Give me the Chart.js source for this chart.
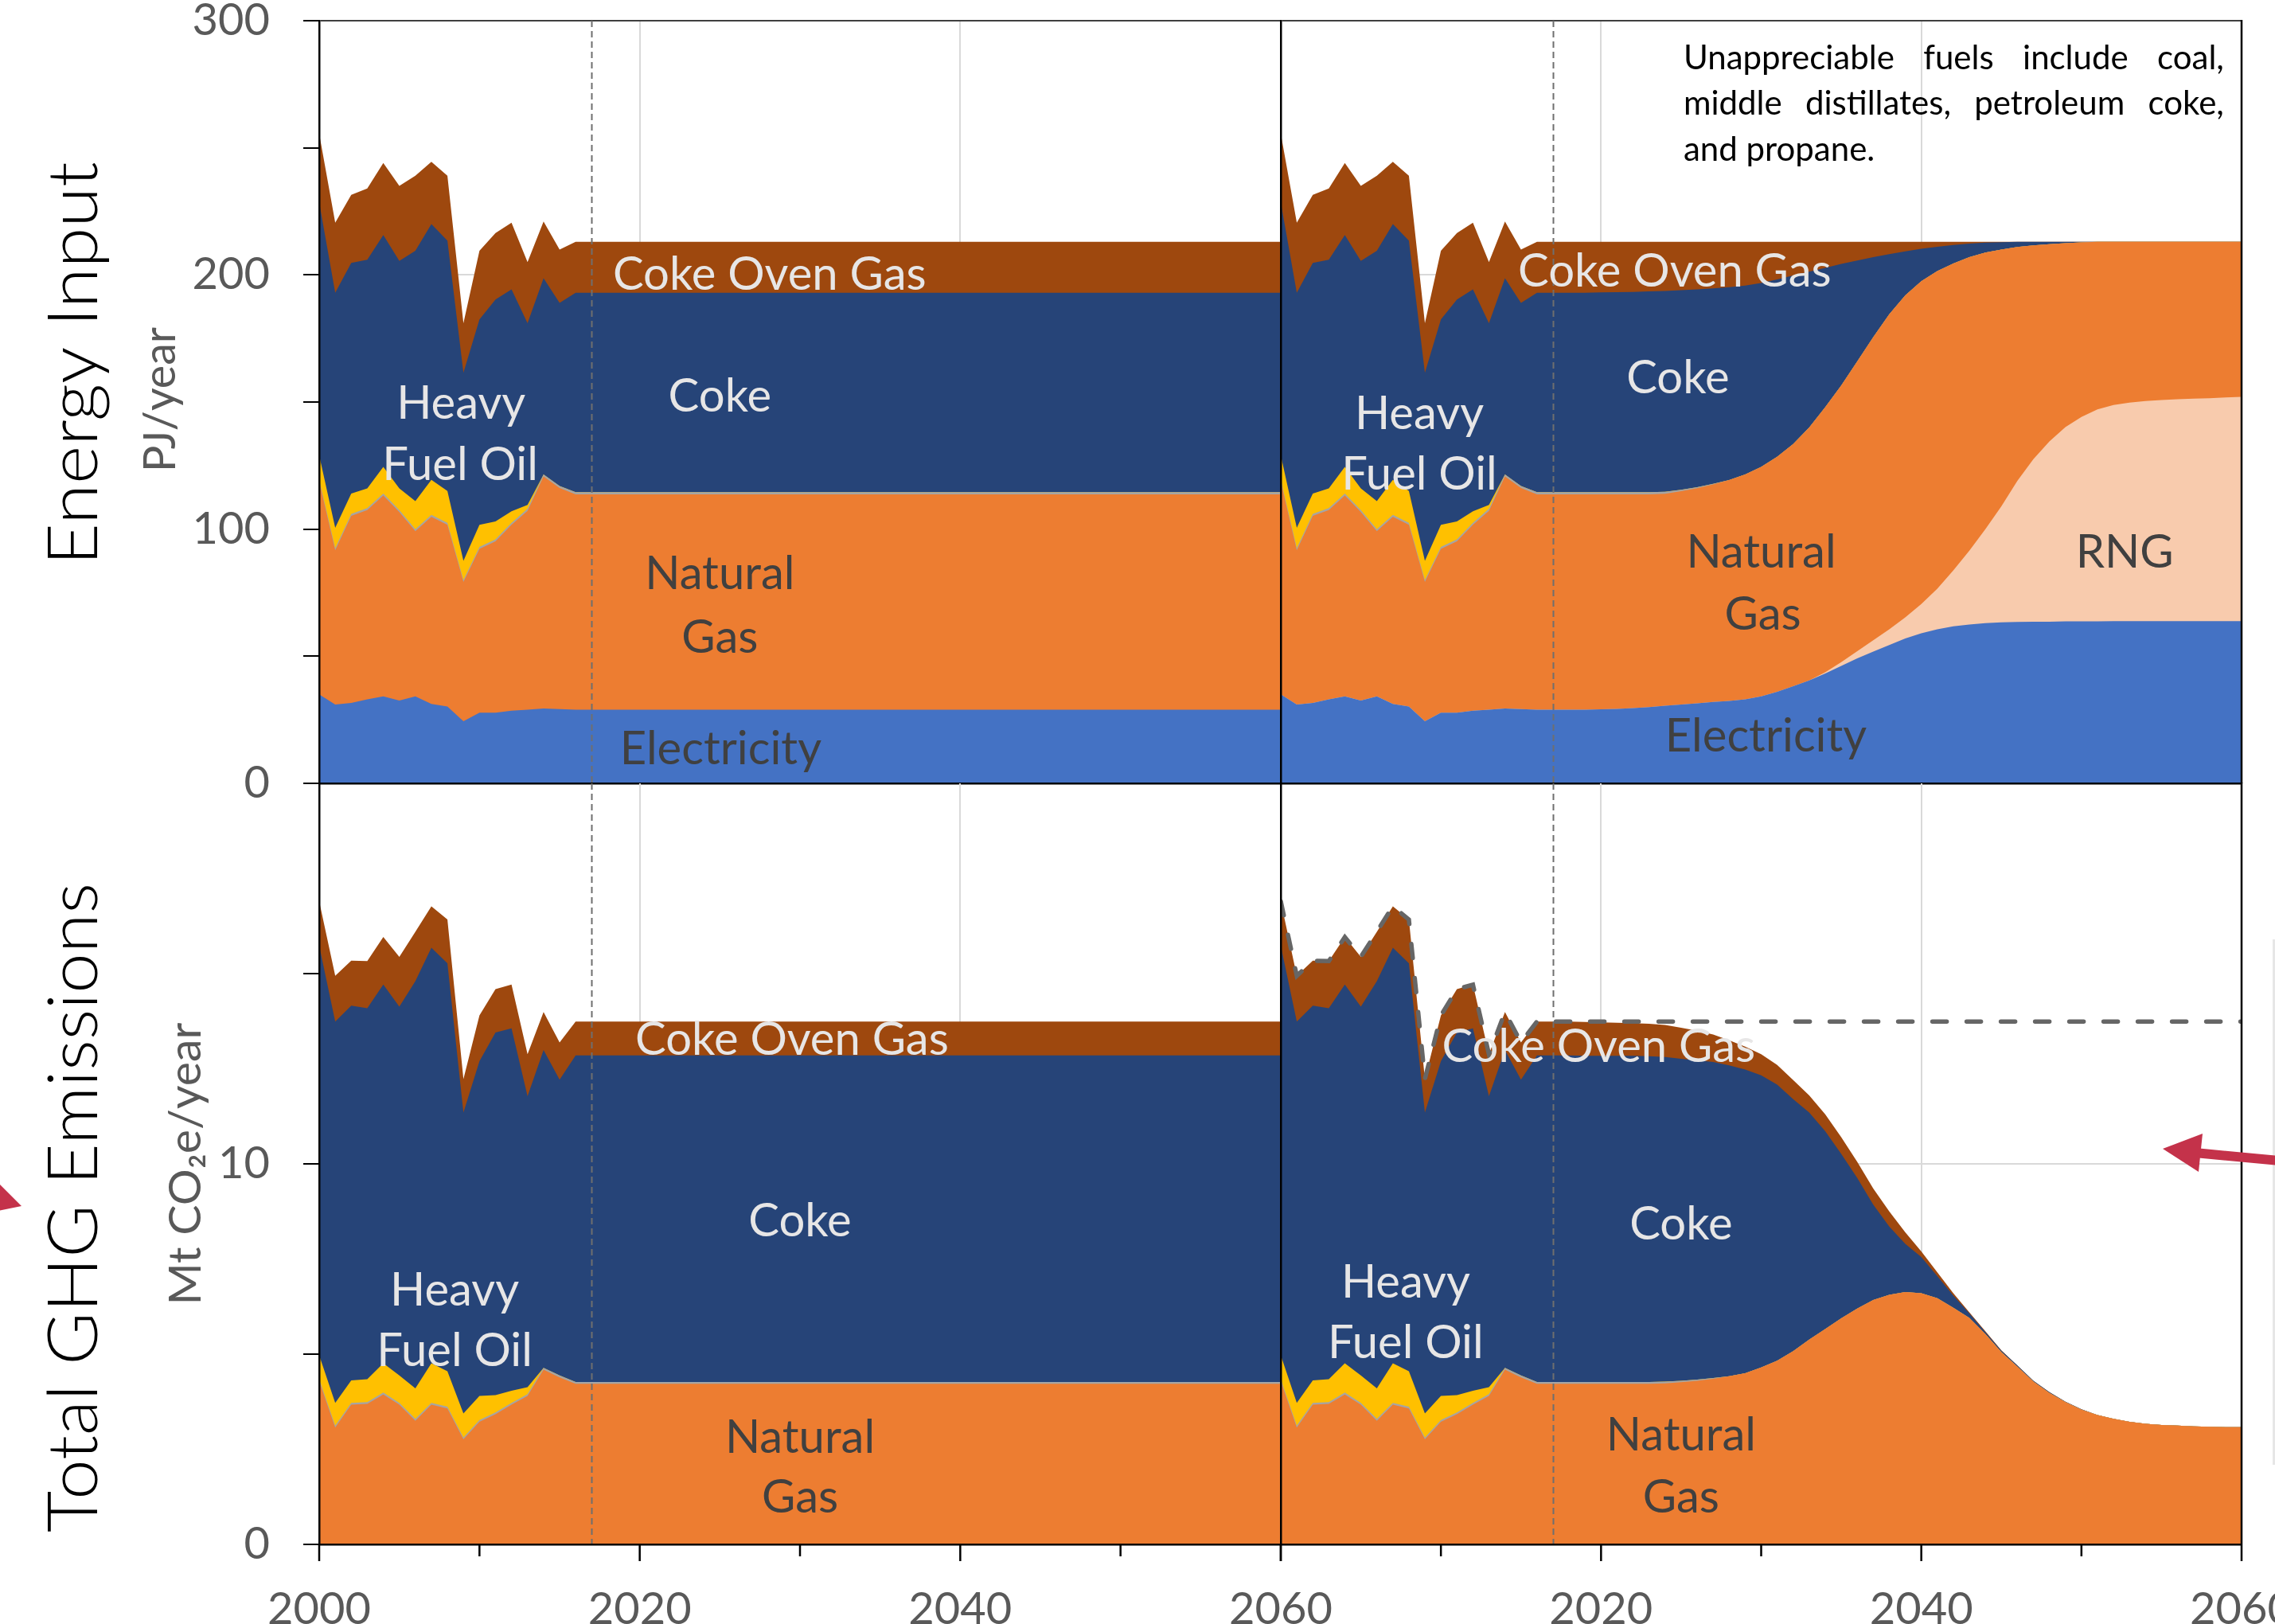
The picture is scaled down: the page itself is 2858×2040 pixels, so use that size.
<!DOCTYPE html>
<html>
<head>
<meta charset="utf-8">
<title>Iron and steel: energy input and GHG emissions</title>
<script src="https://cdn.jsdelivr.net/npm/chart.js"></script>
<style>
  html, body { margin: 0; padding: 0; width: 2858px; height: 2040px; overflow: hidden; background: #ffffff; }
  canvas, svg { position: absolute; left: 0; top: 0; }
  svg { pointer-events: none; }
</style>
</head>
<body>
<canvas id="energyReference" width="2950" height="2100"></canvas>
<canvas id="emissionsReference" width="2950" height="2100"></canvas>
<canvas id="energyNetZero" width="2950" height="2100"></canvas>
<canvas id="emissionsNetZero" width="2950" height="2100"></canvas>
<svg width="2858" height="2040" viewBox="0 0 2858 2040">
  <line x1="2856.5" y1="1180" x2="2856.5" y2="1840" stroke="#e6e6e6" stroke-width="3"/>
  <line x1="2880" y1="1459.5" x2="2760" y2="1448.3" stroke="#c4324a" stroke-width="12"/>
  <polygon points="2717,1443 2767,1424 2762,1472" fill="#c4324a"/>
  <polygon points="-12,1476 27,1515 -12,1523" fill="#c4324a"/>
</svg>
<script>
// ---------------------------------------------------------------------------
// Years: 2000-2016 are historical, 2017-2060 are projections
// ---------------------------------------------------------------------------
const years = [];
for (let yr = 2000; yr <= 2060; yr++) years.push(yr);
const PROJECTION_START = 2017;

// ---- Energy input, PJ/year, history 2000-2016 ------------------------------
const histEnergyElectricity  = [35, 31, 31.6, 33, 34.2, 32.6, 34.2, 31.2, 30.2, 24.4, 27.8, 27.8, 28.6, 29, 29.4, 29.2, 29];
const histEnergyNaturalGas   = [83.7, 60.7, 73.6, 74.5, 79, 74.1, 65, 73.6, 71.5, 54.8, 64.4, 67.4, 73.1, 78.2, 91.3, 87, 84.7];
const histEnergyOther        = [0.8, 0.8, 0.8, 0.8, 0.8, 0.8, 0.8, 0.8, 0.8, 0.8, 0.8, 0.8, 0.8, 0.8, 0.8, 0.8, 0.8];
const histEnergyHeavyFuelOil = [9.5, 8, 8, 7.7, 10.5, 8.5, 11, 13.8, 12.5, 7.5, 8.7, 7, 4.5, 1.5, 0, 0, 0];
const histEnergyCoke         = [99.5, 92.5, 90.7, 90, 91.2, 89.5, 98.5, 100.6, 98.5, 74, 80.8, 87.3, 87.3, 71.5, 77.2, 72, 78.5];
const histEnergyCokeOvenGas  = [27, 27.5, 26.8, 28, 28.3, 29.5, 29.5, 24.5, 25.5, 19.5, 27, 26.2, 26.2, 24, 22.3, 21, 20];
const histEnergyRng          = [0, 0, 0, 0, 0, 0, 0, 0, 0, 0, 0, 0, 0, 0, 0, 0, 0];

// ---- Energy input, reference projection 2017-2060 --------------------------
const refEnergyElectricity = [
  29, 29, 29, 29, 29, 29, 29, 29, 29, 29, 29,
  29, 29, 29, 29, 29, 29, 29, 29, 29, 29, 29,
  29, 29, 29, 29, 29, 29, 29, 29, 29, 29, 29,
  29, 29, 29, 29, 29, 29, 29, 29, 29, 29, 29];
const refEnergyNaturalGas = [
  84.7, 84.7, 84.7, 84.7, 84.7, 84.7, 84.7, 84.7, 84.7, 84.7, 84.7,
  84.7, 84.7, 84.7, 84.7, 84.7, 84.7, 84.7, 84.7, 84.7, 84.7, 84.7,
  84.7, 84.7, 84.7, 84.7, 84.7, 84.7, 84.7, 84.7, 84.7, 84.7, 84.7,
  84.7, 84.7, 84.7, 84.7, 84.7, 84.7, 84.7, 84.7, 84.7, 84.7, 84.7];
const refEnergyOther = [
  0.8, 0.8, 0.8, 0.8, 0.8, 0.8, 0.8, 0.8, 0.8, 0.8, 0.8,
  0.8, 0.8, 0.8, 0.8, 0.8, 0.8, 0.8, 0.8, 0.8, 0.8, 0.8,
  0.8, 0.8, 0.8, 0.8, 0.8, 0.8, 0.8, 0.8, 0.8, 0.8, 0.8,
  0.8, 0.8, 0.8, 0.8, 0.8, 0.8, 0.8, 0.8, 0.8, 0.8, 0.8];
const refEnergyHeavyFuelOil = [
  0, 0, 0, 0, 0, 0, 0, 0, 0, 0, 0,
  0, 0, 0, 0, 0, 0, 0, 0, 0, 0, 0,
  0, 0, 0, 0, 0, 0, 0, 0, 0, 0, 0,
  0, 0, 0, 0, 0, 0, 0, 0, 0, 0, 0];
const refEnergyCoke = [
  78.5, 78.5, 78.5, 78.5, 78.5, 78.5, 78.5, 78.5, 78.5, 78.5, 78.5,
  78.5, 78.5, 78.5, 78.5, 78.5, 78.5, 78.5, 78.5, 78.5, 78.5, 78.5,
  78.5, 78.5, 78.5, 78.5, 78.5, 78.5, 78.5, 78.5, 78.5, 78.5, 78.5,
  78.5, 78.5, 78.5, 78.5, 78.5, 78.5, 78.5, 78.5, 78.5, 78.5, 78.5];
const refEnergyCokeOvenGas = [
  20, 20, 20, 20, 20, 20, 20, 20, 20, 20, 20,
  20, 20, 20, 20, 20, 20, 20, 20, 20, 20, 20,
  20, 20, 20, 20, 20, 20, 20, 20, 20, 20, 20,
  20, 20, 20, 20, 20, 20, 20, 20, 20, 20, 20];

// ---- Energy input, net-zero projection 2017-2060 ---------------------------
const netEnergyElectricity = [
  29, 29, 29, 29.1, 29.3, 29.6, 30, 30.5, 31, 31.5, 32,
  32.4, 33, 34.2, 36, 38.2, 40.5, 43.2, 46.2, 49.2, 51.8, 54.4,
  57, 59, 60.6, 61.8, 62.5, 63, 63.3, 63.5, 63.6, 63.6, 63.7,
  63.7, 63.7, 63.8, 63.8, 63.8, 63.8, 63.8, 63.8, 63.8, 63.8, 63.8];
const netEnergyRng = [
  0, 0, 0, 0, 0, 0, 0, 0, 0, 0, 0,
  0, 0, 0, 0, 0, 0, 0.5, 1.5, 2.8, 4.5, 6.2,
  8.3, 11.5, 16, 22, 29, 37, 45.7, 55.5, 63.9, 70.9, 76.4,
  80.4, 83.4, 85, 86, 86.6, 87, 87.3, 87.5, 87.7, 88, 88.2];
const netEnergyNaturalGas = [
  84.7, 84.7, 84.7, 84.6, 84.4, 84.1, 83.7, 83.4, 83.9, 84.6, 85.6,
  86.9, 88.5, 90.3, 92.5, 95.3, 99.5, 104.3, 108.8, 114, 119.2, 123.9,
  126.7, 127, 124.9, 120.7, 115.5, 108.8, 101, 92, 84.1, 77.6, 72.4,
  68.7, 65.9, 64.2, 63.2, 62.6, 62.2, 61.9, 61.7, 61.5, 61.2, 61];
const netEnergyOther = [
  0.8, 0.8, 0.8, 0.8, 0.8, 0.8, 0.8, 0.8, 0.6, 0.4, 0.2,
  0, 0, 0, 0, 0, 0, 0, 0, 0, 0, 0,
  0, 0, 0, 0, 0, 0, 0, 0, 0, 0, 0,
  0, 0, 0, 0, 0, 0, 0, 0, 0, 0, 0];
const netEnergyHeavyFuelOil = [
  0, 0, 0, 0, 0, 0, 0, 0, 0, 0, 0,
  0, 0, 0, 0, 0, 0, 0, 0, 0, 0, 0,
  0, 0, 0, 0, 0, 0, 0, 0, 0, 0, 0,
  0, 0, 0, 0, 0, 0, 0, 0, 0, 0, 0];
const netEnergyCoke = [
  78.5, 78.5, 78.5, 78.6, 78.7, 78.8, 79, 79, 78.5, 77.8, 76.9,
  75.9, 74.3, 72.3, 69.7, 66.3, 61.3, 54.8, 47.8, 39.7, 31.5, 23.7,
  17.3, 12.8, 9.6, 7.3, 5.3, 3.9, 2.9, 2, 1.4, 0.9, 0.5,
  0.2, 0, 0, 0, 0, 0, 0, 0, 0, 0, 0];
const netEnergyCokeOvenGas = [
  20, 20, 20, 19.9, 19.8, 19.7, 19.5, 19.3, 19, 18.7, 18.3,
  17.8, 17.2, 16.2, 14.8, 13.2, 11.7, 10.2, 8.7, 7.3, 6, 4.8,
  3.7, 2.7, 1.9, 1.2, 0.7, 0.3, 0.1, 0, 0, 0, 0,
  0, 0, 0, 0, 0, 0, 0, 0, 0, 0, 0];

// ---- GHG emissions, Mt CO2e/year, history 2000-2016 ------------------------
const histEmNaturalGas   = [4.29, 3.07, 3.67, 3.69, 3.94, 3.67, 3.25, 3.67, 3.57, 2.76, 3.22, 3.42, 3.67, 3.9, 4.59, 4.39, 4.22];
const histEmOther        = [0.05, 0.05, 0.05, 0.05, 0.05, 0.05, 0.05, 0.05, 0.05, 0.05, 0.05, 0.05, 0.05, 0.05, 0.05, 0.05, 0.05];
const histEmHeavyFuelOil = [0.63, 0.6, 0.59, 0.6, 0.77, 0.72, 0.8, 1.04, 0.93, 0.63, 0.63, 0.45, 0.32, 0.18, 0, 0, 0];
const histEmCoke         = [10.76, 10.02, 9.85, 9.75, 9.95, 9.69, 10.7, 10.92, 10.72, 7.91, 8.8, 9.53, 9.52, 7.65, 8.35, 7.77, 8.58];
const histEmCokeOvenGas  = [1.17, 1.2, 1.18, 1.24, 1.25, 1.31, 1.3, 1.09, 1.15, 0.88, 1.2, 1.14, 1.15, 1.1, 1, 0.98, 0.89];

// ---- GHG emissions, reference projection 2017-2060 -------------------------
const refEmNaturalGas = [
  4.22, 4.22, 4.22, 4.22, 4.22, 4.22, 4.22, 4.22, 4.22, 4.22, 4.22,
  4.22, 4.22, 4.22, 4.22, 4.22, 4.22, 4.22, 4.22, 4.22, 4.22, 4.22,
  4.22, 4.22, 4.22, 4.22, 4.22, 4.22, 4.22, 4.22, 4.22, 4.22, 4.22,
  4.22, 4.22, 4.22, 4.22, 4.22, 4.22, 4.22, 4.22, 4.22, 4.22, 4.22];
const refEmOther = [
  0.05, 0.05, 0.05, 0.05, 0.05, 0.05, 0.05, 0.05, 0.05, 0.05, 0.05,
  0.05, 0.05, 0.05, 0.05, 0.05, 0.05, 0.05, 0.05, 0.05, 0.05, 0.05,
  0.05, 0.05, 0.05, 0.05, 0.05, 0.05, 0.05, 0.05, 0.05, 0.05, 0.05,
  0.05, 0.05, 0.05, 0.05, 0.05, 0.05, 0.05, 0.05, 0.05, 0.05, 0.05];
const refEmHeavyFuelOil = [
  0, 0, 0, 0, 0, 0, 0, 0, 0, 0, 0,
  0, 0, 0, 0, 0, 0, 0, 0, 0, 0, 0,
  0, 0, 0, 0, 0, 0, 0, 0, 0, 0, 0,
  0, 0, 0, 0, 0, 0, 0, 0, 0, 0, 0];
const refEmCoke = [
  8.58, 8.58, 8.58, 8.58, 8.58, 8.58, 8.58, 8.58, 8.58, 8.58, 8.58,
  8.58, 8.58, 8.58, 8.58, 8.58, 8.58, 8.58, 8.58, 8.58, 8.58, 8.58,
  8.58, 8.58, 8.58, 8.58, 8.58, 8.58, 8.58, 8.58, 8.58, 8.58, 8.58,
  8.58, 8.58, 8.58, 8.58, 8.58, 8.58, 8.58, 8.58, 8.58, 8.58, 8.58];
const refEmCokeOvenGas = [
  0.89, 0.89, 0.89, 0.89, 0.89, 0.89, 0.89, 0.89, 0.89, 0.89, 0.89,
  0.89, 0.89, 0.89, 0.89, 0.89, 0.89, 0.89, 0.89, 0.89, 0.89, 0.89,
  0.89, 0.89, 0.89, 0.89, 0.89, 0.89, 0.89, 0.89, 0.89, 0.89, 0.89,
  0.89, 0.89, 0.89, 0.89, 0.89, 0.89, 0.89, 0.89, 0.89, 0.89, 0.89];

// ---- GHG emissions, net-zero projection 2017-2060 --------------------------
const netEmNaturalGas = [
  4.22, 4.22, 4.22, 4.22, 4.22, 4.22, 4.22, 4.23, 4.26, 4.3, 4.35,
  4.42, 4.5, 4.65, 4.83, 5.08, 5.38, 5.66, 5.94, 6.2, 6.42, 6.56,
  6.63, 6.6, 6.47, 6.22, 5.95, 5.53, 5.05, 4.67, 4.28, 3.98, 3.74,
  3.54, 3.4, 3.3, 3.22, 3.17, 3.14, 3.12, 3.1, 3.09, 3.08, 3.08];
const netEmOther = [
  0.05, 0.05, 0.05, 0.05, 0.05, 0.05, 0.05, 0.05, 0.04, 0.03, 0.02,
  0, 0, 0, 0, 0, 0, 0, 0, 0, 0, 0,
  0, 0, 0, 0, 0, 0, 0, 0, 0, 0, 0,
  0, 0, 0, 0, 0, 0, 0, 0, 0, 0, 0];
const netEmHeavyFuelOil = [
  0, 0, 0, 0, 0, 0, 0, 0, 0, 0, 0,
  0, 0, 0, 0, 0, 0, 0, 0, 0, 0, 0,
  0, 0, 0, 0, 0, 0, 0, 0, 0, 0, 0,
  0, 0, 0, 0, 0, 0, 0, 0, 0, 0, 0];
const netEmCoke = [
  8.58, 8.58, 8.57, 8.57, 8.57, 8.57, 8.56, 8.53, 8.46, 8.39, 8.31,
  8.17, 7.98, 7.68, 7.25, 6.62, 5.97, 5.2, 4.32, 3.43, 2.51, 1.79,
  1.27, 0.95, 0.58, 0.32, 0.12, 0.05, 0.04, 0.03, 0.02, 0.02, 0.01,
  0.01, 0, 0, 0, 0, 0, 0, 0, 0, 0, 0];
const netEmCokeOvenGas = [
  0.89, 0.89, 0.89, 0.88, 0.87, 0.86, 0.85, 0.84, 0.82, 0.78, 0.72,
  0.66, 0.6, 0.55, 0.52, 0.5, 0.45, 0.44, 0.44, 0.42, 0.42, 0.4,
  0.3, 0.15, 0.1, 0.06, 0.03, 0.02, 0.01, 0, 0, 0, 0,
  0, 0, 0, 0, 0, 0, 0, 0, 0, 0, 0];

// ---------------------------------------------------------------------------
// Styling
// ---------------------------------------------------------------------------
const FONT = 'Lato, "Open Sans", "DejaVu Sans", sans-serif';
const GRID = '#d9d9d9';
const CLEAR = 'rgba(0,0,0,0)';
const LIGHT = '#e7e6e6';
const DARK = '#404040';
const AXIS_TEXT = '#595959';
const COLORS = {
  electricity: '#4472c4',
  rng: '#f8cbad',
  naturalGas: '#ed7d31',
  other: '#a5a5a5',
  heavyFuelOil: '#ffc000',
  coke: '#264478',
  cokeOvenGas: '#9e480e'
};

// Canvas size and the pixel frame of the four plot areas
const CW = 2950, CH = 2100;
const X_LEFT = 401, X_MID = 1609, X_RIGHT = 2816;
const Y_TOP = 26, Y_MID = 984, Y_BOTTOM = 1940;

const full = (hist, proj) => hist.concat(proj);
const points = values => values.map((v, i) => ({ x: years[i], y: v }));
function area(label, values, color) {
  return { label, data: points(values), backgroundColor: color, borderWidth: 0,
           fill: 'origin', pointRadius: 0, tension: 0 };
}

// Reference total emissions, drawn as a dashed outline in the net-zero panel
const refEmTotal = full(histEmNaturalGas, refEmNaturalGas).map((v, i) =>
  v + full(histEmOther, refEmOther)[i] + full(histEmHeavyFuelOil, refEmHeavyFuelOil)[i] +
  full(histEmCoke, refEmCoke)[i] + full(histEmCokeOvenGas, refEmCokeOvenGas)[i]);

// ---------------------------------------------------------------------------
// Plugin: projection marker, text labels, x tick marks, axis titles, note
// ---------------------------------------------------------------------------
function drawJustified(ctx, text, left, right, baseline) {
  const words = text.split(' ');
  const widths = words.map(w => ctx.measureText(w).width);
  const gap = (right - left - widths.reduce((s, w) => s + w, 0)) / (words.length - 1);
  let cx = left;
  words.forEach((w, i) => { ctx.fillText(w, cx, baseline); cx += widths[i] + gap; });
}

const decorPlugin = {
  id: 'decor',
  afterDatasetsDraw(chart, _args, o) {
    const { ctx, chartArea: a, scales: { x, y } } = chart;
    ctx.save();
    const px = Math.round(x.getPixelForValue(o.projectionStart)) + 0.5;
    ctx.strokeStyle = '#6f6f6f';
    ctx.lineWidth = 2;
    ctx.setLineDash([8, 5]);
    ctx.beginPath(); ctx.moveTo(px, a.top); ctx.lineTo(px, a.bottom); ctx.stroke();
    ctx.setLineDash([]);
    if (o.rightFrame) {
      ctx.strokeStyle = '#000'; ctx.lineWidth = 2.5;
      ctx.beginPath(); ctx.moveTo(a.right, a.top - 1); ctx.lineTo(a.right, a.bottom); ctx.stroke();
    }
    ctx.textAlign = 'center';
    ctx.textBaseline = 'alphabetic';
    ctx.font = `58px ${FONT}`;
    for (const l of (o.labels || [])) {
      ctx.fillStyle = l.color;
      ctx.fillText(l.text, x.getPixelForValue(l.x), y.getPixelForValue(l.y));
    }
    if (o.note) {
      ctx.font = `42px ${FONT}`;
      ctx.fillStyle = '#000';
      ctx.textAlign = 'left';
      const left = x.getPixelForValue(o.note.from), right = x.getPixelForValue(o.note.to);
      o.note.lines.forEach((line, i) => {
        const base = y.getPixelForValue(o.note.baselines[i]);
        if (i < o.note.lines.length - 1) drawJustified(ctx, line, left, right, base);
        else ctx.fillText(line, left, base);
      });
    }
    ctx.restore();
  },
  afterDraw(chart, _args, o) {
    const { ctx, chartArea: a, scales: { x } } = chart;
    ctx.save();
    if (o.tickMarks) {
      ctx.strokeStyle = '#000'; ctx.lineWidth = 2.5;
      for (const t of x.ticks) {
        const px = x.getPixelForValue(t.value);
        const len = t.value % 20 === 0 ? 21 : 15;
        ctx.beginPath(); ctx.moveTo(px, a.bottom); ctx.lineTo(px, a.bottom + len); ctx.stroke();
      }
    }
    for (const t of (o.titles || [])) {
      ctx.save();
      ctx.font = t.font;
      ctx.fillStyle = t.color;
      ctx.textAlign = 'center';
      ctx.textBaseline = 'alphabetic';
      const w = ctx.measureText(t.text).width;
      ctx.translate(t.baselineX, t.centerY);
      ctx.rotate(-Math.PI / 2);
      ctx.scale(t.length / w, 1);
      ctx.fillText(t.text, 0, 0);
      ctx.restore();
    }
    ctx.restore();
  }
};
Chart.register(decorPlugin);

// ---------------------------------------------------------------------------
// Shared options for the four plot areas
// ---------------------------------------------------------------------------
function chartOptions(p) {
  return {
    responsive: false,
    animation: false,
    devicePixelRatio: 1,
    events: [],
    layout: { padding: { left: 0, top: p.top, right: CW - p.right, bottom: p.xLabels ? 0 : CH - p.bottom } },
    plugins: { legend: { display: false }, tooltip: { enabled: false }, decor: p.decor },
    scales: {
      x: {
        type: 'linear', min: 2000, max: 2060,
        afterFit(s) { s.height = p.xLabels ? CH - p.bottom : 0; s.paddingLeft = 0; s.paddingRight = 0; },
        grid: {
          drawTicks: false, lineWidth: 2,
          color: c => (c.tick && (c.tick.value === 2020 || c.tick.value === 2040)) ? GRID : CLEAR
        },
        border: { display: true, color: '#000', width: 2.5, z: 1 },
        ticks: {
          display: p.xLabels, stepSize: 10, autoSkip: false, maxRotation: 0, minRotation: 0,
          padding: 48, color: AXIS_TEXT, font: { family: FONT, size: 56 },
          callback: v => (v % 20 === 0 && !(p.hideFirstX && v === 2000)) ? String(v) : ''
        }
      },
      y: {
        stacked: true, min: 0, max: p.yMax,
        afterFit(s) { s.width = p.left; s.paddingTop = 0; s.paddingBottom = 0; },
        grid: {
          drawTicks: p.yLabels, tickLength: 20, tickWidth: 2, tickColor: '#000', lineWidth: 2,
          color: c => {
            if (!c.tick) return CLEAR;
            const v = c.tick.value;
            if (v === p.yMax) return p.topLine ? '#3f3f3f' : CLEAR;
            return (v > 0 && v % p.yMajor === 0) ? GRID : CLEAR;
          }
        },
        border: { display: true, color: '#000', width: 2.5, z: 1 },
        ticks: {
          display: p.yLabels, stepSize: p.yStep, padding: 42, color: AXIS_TEXT,
          font: { family: FONT, size: 56 },
          callback: v => (v % p.yMajor === 0 && !(p.hideTopY && v === p.yMax)) ? String(v) : ''
        }
      }
    }
  };
}

// ---------------------------------------------------------------------------
// Energy input - reference
// ---------------------------------------------------------------------------
new Chart(document.getElementById('energyReference'), {
  type: 'line',
  data: { datasets: [
    area('Electricity', full(histEnergyElectricity, refEnergyElectricity), COLORS.electricity),
    area('Natural Gas', full(histEnergyNaturalGas, refEnergyNaturalGas), COLORS.naturalGas),
    area('Unappreciable fuels', full(histEnergyOther, refEnergyOther), COLORS.other),
    area('Heavy Fuel Oil', full(histEnergyHeavyFuelOil, refEnergyHeavyFuelOil), COLORS.heavyFuelOil),
    area('Coke', full(histEnergyCoke, refEnergyCoke), COLORS.coke),
    area('Coke Oven Gas', full(histEnergyCokeOvenGas, refEnergyCokeOvenGas), COLORS.cokeOvenGas)
  ] },
  options: chartOptions({
    left: X_LEFT, right: X_MID, top: Y_TOP, bottom: Y_MID,
    yMax: 300, yStep: 50, yMajor: 100, yLabels: true, xLabels: false, topLine: true,
    decor: {
      projectionStart: PROJECTION_START,
      labels: [
        { text: 'Coke Oven Gas', x: 2028.1, y: 194.2, color: LIGHT },
        { text: 'Coke', x: 2025, y: 146.3, color: LIGHT },
        { text: 'Heavy', x: 2008.85, y: 143.4, color: LIGHT },
        { text: 'Fuel Oil', x: 2008.8, y: 119.3, color: LIGHT },
        { text: 'Natural', x: 2025, y: 76.4, color: DARK },
        { text: 'Gas', x: 2025, y: 51.5, color: DARK },
        { text: 'Electricity', x: 2025.05, y: 7.5, color: DARK }
      ],
      titles: [
        { text: 'Energy Input', baselineX: 122, centerY: 457, length: 507, font: `300 86px ${FONT}`, color: '#000' },
        { text: 'PJ/year', baselineX: 220, centerY: 502, length: 182, font: `57px ${FONT}`, color: AXIS_TEXT }
      ]
    }
  })
});

// ---------------------------------------------------------------------------
// GHG emissions - reference
// ---------------------------------------------------------------------------
new Chart(document.getElementById('emissionsReference'), {
  type: 'line',
  data: { datasets: [
    area('Natural Gas', full(histEmNaturalGas, refEmNaturalGas), COLORS.naturalGas),
    area('Unappreciable fuels', full(histEmOther, refEmOther), COLORS.other),
    area('Heavy Fuel Oil', full(histEmHeavyFuelOil, refEmHeavyFuelOil), COLORS.heavyFuelOil),
    area('Coke', full(histEmCoke, refEmCoke), COLORS.coke),
    area('Coke Oven Gas', full(histEmCokeOvenGas, refEmCokeOvenGas), COLORS.cokeOvenGas)
  ] },
  options: chartOptions({
    left: X_LEFT, right: X_MID, top: Y_MID, bottom: Y_BOTTOM,
    yMax: 20, yStep: 5, yMajor: 10, yLabels: true, xLabels: true, hideTopY: true,
    decor: {
      projectionStart: PROJECTION_START,
      tickMarks: true,
      labels: [
        { text: 'Coke Oven Gas', x: 2029.5, y: 12.86, color: LIGHT },
        { text: 'Coke', x: 2030, y: 8.09, color: LIGHT },
        { text: 'Heavy', x: 2008.45, y: 6.28, color: LIGHT },
        { text: 'Fuel Oil', x: 2008.45, y: 4.69, color: LIGHT },
        { text: 'Natural', x: 2030, y: 2.4, color: DARK },
        { text: 'Gas', x: 2030, y: 0.83, color: DARK }
      ],
      titles: [
        { text: 'Total GHG Emissions', baselineX: 122, centerY: 1517, length: 816, font: `300 86px ${FONT}`, color: '#000' },
        { text: 'Mt CO\u2082e/year', baselineX: 252, centerY: 1462, length: 355, font: `56px ${FONT}`, color: AXIS_TEXT }
      ]
    }
  })
});

// ---------------------------------------------------------------------------
// Energy input - net zero
// ---------------------------------------------------------------------------
new Chart(document.getElementById('energyNetZero'), {
  type: 'line',
  data: { datasets: [
    area('Electricity', full(histEnergyElectricity, netEnergyElectricity), COLORS.electricity),
    area('RNG', full(histEnergyRng, netEnergyRng), COLORS.rng),
    area('Natural Gas', full(histEnergyNaturalGas, netEnergyNaturalGas), COLORS.naturalGas),
    area('Unappreciable fuels', full(histEnergyOther, netEnergyOther), COLORS.other),
    area('Heavy Fuel Oil', full(histEnergyHeavyFuelOil, netEnergyHeavyFuelOil), COLORS.heavyFuelOil),
    area('Coke', full(histEnergyCoke, netEnergyCoke), COLORS.coke),
    area('Coke Oven Gas', full(histEnergyCokeOvenGas, netEnergyCokeOvenGas), COLORS.cokeOvenGas)
  ] },
  options: chartOptions({
    left: X_MID, right: X_RIGHT, top: Y_TOP, bottom: Y_MID,
    yMax: 300, yStep: 50, yMajor: 100, yLabels: false, xLabels: false, topLine: true,
    decor: {
      projectionStart: PROJECTION_START,
      rightFrame: true,
      labels: [
        { text: 'Coke Oven Gas', x: 2024.6, y: 195.4, color: LIGHT },
        { text: 'Coke', x: 2024.8, y: 153.4, color: LIGHT },
        { text: 'Heavy', x: 2008.65, y: 139.4, color: LIGHT },
        { text: 'Fuel Oil', x: 2008.65, y: 115.4, color: LIGHT },
        { text: 'Natural', x: 2030, y: 84.9, color: DARK },
        { text: 'Gas', x: 2030.1, y: 60.4, color: DARK },
        { text: 'RNG', x: 2052.7, y: 84.9, color: DARK },
        { text: 'Electricity', x: 2030.3, y: 12.5, color: DARK }
      ],
      note: {
        from: 2025.15, to: 2058.9,
        baselines: [280.9, 262.9, 244.9],
        lines: ['Unappreciable fuels include coal,', 'middle distillates, petroleum coke,', 'and propane.']
      }
    }
  })
});

// ---------------------------------------------------------------------------
// GHG emissions - net zero
// ---------------------------------------------------------------------------
new Chart(document.getElementById('emissionsNetZero'), {
  type: 'line',
  data: { datasets: [
    area('Natural Gas', full(histEmNaturalGas, netEmNaturalGas), COLORS.naturalGas),
    area('Unappreciable fuels', full(histEmOther, netEmOther), COLORS.other),
    area('Heavy Fuel Oil', full(histEmHeavyFuelOil, netEmHeavyFuelOil), COLORS.heavyFuelOil),
    area('Coke', full(histEmCoke, netEmCoke), COLORS.coke),
    area('Coke Oven Gas', full(histEmCokeOvenGas, netEmCokeOvenGas), COLORS.cokeOvenGas),
    { label: 'Reference total', data: points(refEmTotal), stack: 'reference', order: -1,
      fill: false, borderColor: '#666666', borderWidth: 5.5, borderDash: [18, 25],
      borderCapStyle: 'round', pointRadius: 0, tension: 0 }
  ] },
  options: chartOptions({
    left: X_MID, right: X_RIGHT, top: Y_MID, bottom: Y_BOTTOM,
    yMax: 20, yStep: 5, yMajor: 10, yLabels: false, xLabels: true, hideFirstX: true, hideTopY: true,
    decor: {
      projectionStart: PROJECTION_START,
      rightFrame: true,
      tickMarks: true,
      labels: [
        { text: 'Coke Oven Gas', x: 2019.85, y: 12.67, color: LIGHT },
        { text: 'Coke', x: 2025, y: 8.02, color: LIGHT },
        { text: 'Heavy', x: 2007.8, y: 6.49, color: LIGHT },
        { text: 'Fuel Oil', x: 2007.8, y: 4.9, color: LIGHT },
        { text: 'Natural', x: 2025, y: 2.47, color: DARK },
        { text: 'Gas', x: 2025, y: 0.83, color: DARK }
      ]
    }
  })
});
</script>
</body>
</html>
